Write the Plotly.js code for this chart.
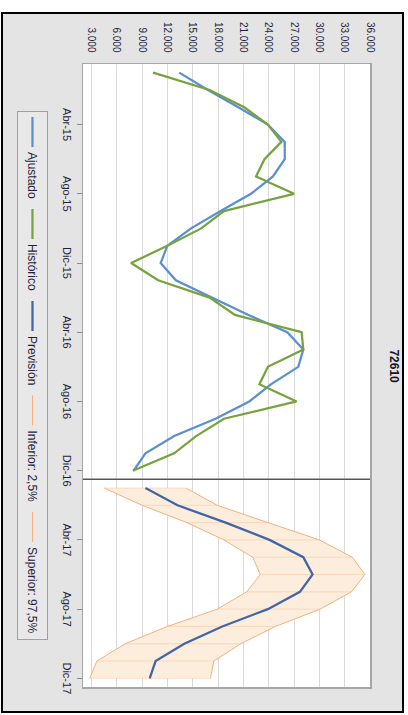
<!DOCTYPE html>
<html>
<head>
<meta charset="utf-8">
<script src="https://cdn.plot.ly/plotly-3.0.1.min.js"></script>
<style>
  html, body { margin: 0; padding: 0; background: #ffffff; overflow: hidden; }
  #wrap {
    position: absolute; left: 0; top: 0; width: 715px; height: 408px;
    transform-origin: 0 0; transform: translateX(408px) rotate(90deg);
  }
  #frame {
    position: absolute; left: 12px; top: 4px; width: 701px; height: 403px;
    box-sizing: border-box; border: 2px solid #000; background: #e4e4e4;
  }
  #chart { position: absolute; left: 0; top: 0; width: 715px; height: 408px; }
</style>
</head>
<body>
<div id="wrap"><div id="frame"></div><div id="chart"></div></div>
<script>
// ---- data ----
const categories = [
  "Ene-15","Feb-15","Mar-15","Abr-15","May-15","Jun-15","Jul-15","Ago-15","Sep-15","Oct-15","Nov-15","Dic-15",
  "Ene-16","Feb-16","Mar-16","Abr-16","May-16","Jun-16","Jul-16","Ago-16","Sep-16","Oct-16","Nov-16","Dic-16",
  "Ene-17","Feb-17","Mar-17","Abr-17","May-17","Jun-17","Jul-17","Ago-17","Sep-17","Oct-17","Nov-17","Dic-17"
];
const tickLabels = ["Abr-15","Ago-15","Dic-15","Abr-16","Ago-16","Dic-16","Abr-17","Ago-17","Dic-17"];

const historyCats = categories.slice(0, 24);
const forecastCats = categories.slice(24);

const ajustado = [13400, 16800, 20400, 23900, 25900, 25900, 24500, 21900, 18300, 14800, 12000, 11200,
                  13000, 17300, 21600, 26200, 28100, 27500, 24300, 21700, 17700, 12800, 9400, 8000];
const historico = [10300, 17000, 21100, 23900, 25500, 23500, 22500, 27000, 18700, 16000, 12000, 7700,
                   10900, 17000, 20000, 27900, 28100, 23900, 22900, 27300, 18700, 15400, 12800, 7900];
const prevision = [9400, 13200, 18900, 24100, 28100, 29200, 27700, 23900, 18500, 14000, 10600, 9900];
const inferior  = [4500, 9000, 14300, 18700, 22100, 23000, 21400, 17900, 12000, 7000, 3650, 2800];
const superior  = [14200, 17900, 23900, 30000, 33900, 35400, 33800, 30100, 24800, 20700, 17500, 17100];

const chartTitle = "72610";
const names = ["Ajustado", "Histórico", "Previsión", "Inferior: 2,5%", "Superior: 97,5%"];

// ---- derived structures for the library ----
const bandX = forecastCats.concat(forecastCats.slice().reverse());
const bandY = superior.concat(inferior.slice().reverse());
const hatchX = [], hatchY = [];
forecastCats.forEach((c, i) => { hatchX.push(c, c, null); hatchY.push(inferior[i], superior[i], null); });

const traces = [
  { x: bandX, y: bandY, type: "scatter", mode: "lines", fill: "toself",
    fillcolor: "#fdeddd", line: { width: 0, color: "rgba(0,0,0,0)" }, showlegend: false, hoverinfo: "skip" },
  { x: hatchX, y: hatchY, type: "scatter", mode: "lines",
    line: { width: 1, color: "rgba(247,178,124,0.35)" }, showlegend: false, hoverinfo: "skip" },
  { x: historyCats, y: ajustado, name: names[0], type: "scatter", mode: "lines",
    line: { color: "#5b8fd2", width: 2.25 } },
  { x: historyCats, y: historico, name: names[1], type: "scatter", mode: "lines",
    line: { color: "#78a23f", width: 2.25 } },
  { x: forecastCats, y: prevision, name: names[2], type: "scatter", mode: "lines",
    line: { color: "#4265a6", width: 2.25 } },
  { x: forecastCats, y: inferior, name: names[3], type: "scatter", mode: "lines",
    line: { color: "#f6b07a", width: 1 } },
  { x: forecastCats, y: superior, name: names[4], type: "scatter", mode: "lines",
    line: { color: "#f6b07a", width: 1 } }
];

const fontFam = "'Liberation Sans', Arial, sans-serif";
const layout = {
  width: 715, height: 408,
  margin: { l: 64, r: 28, t: 38, b: 83, pad: 0 },
  paper_bgcolor: "rgba(0,0,0,0)",
  plot_bgcolor: "#ffffff",
  separators: ",.",
  font: { family: fontFam, color: "#1f1f3f" },
  title: { text: chartTitle, x: 0.512, xref: "container", xanchor: "center",
           y: 0.966, yref: "container", yanchor: "middle",
           font: { size: 12, weight: "bold", color: "#141428", family: fontFam } },
  xaxis: {
    type: "category", categoryorder: "array", categoryarray: categories,
    range: [-0.5, 35.5], tickmode: "array", tickvals: tickLabels, ticktext: tickLabels,
    ticks: "outside", ticklen: 5, tickcolor: "#8c8c8c", tickwidth: 1,
    showgrid: false, zeroline: false, showline: true, mirror: true,
    linecolor: "#a6a6a6", linewidth: 1.5, automargin: false,
    tickfont: { size: 11, color: "#1f1f3f", family: fontFam }
  },
  yaxis: {
    range: [2000, 36000], tick0: 3000, dtick: 3000, tickformat: ",d",
    showgrid: true, gridcolor: "#d9d9d9", gridwidth: 1, zeroline: false,
    ticks: "outside", ticklen: 8, tickcolor: "rgba(0,0,0,0)",
    showline: true, mirror: true, linecolor: "#a6a6a6", linewidth: 1.5, automargin: false,
    tickfont: { size: 10, color: "#1f1f3f", family: fontFam }
  },
  shapes: [
    { type: "line", xref: "x", yref: "paper", x0: 23.5, x1: 23.5, y0: 0, y1: 1,
      line: { color: "#555555", width: 1.5 } }
  ],
  legend: {
    orientation: "h", x: 0.5, xanchor: "center", y: -0.122, yanchor: "top",
    bgcolor: "#e8e8e8", bordercolor: "#a0a0a0", borderwidth: 1,
    font: { size: 12, color: "#1f1f3f", family: fontFam },
    traceorder: "normal"
  },
  showlegend: true
};

Plotly.newPlot("chart", traces, layout, { staticPlot: true, displayModeBar: false });
</script>
</body>
</html>
